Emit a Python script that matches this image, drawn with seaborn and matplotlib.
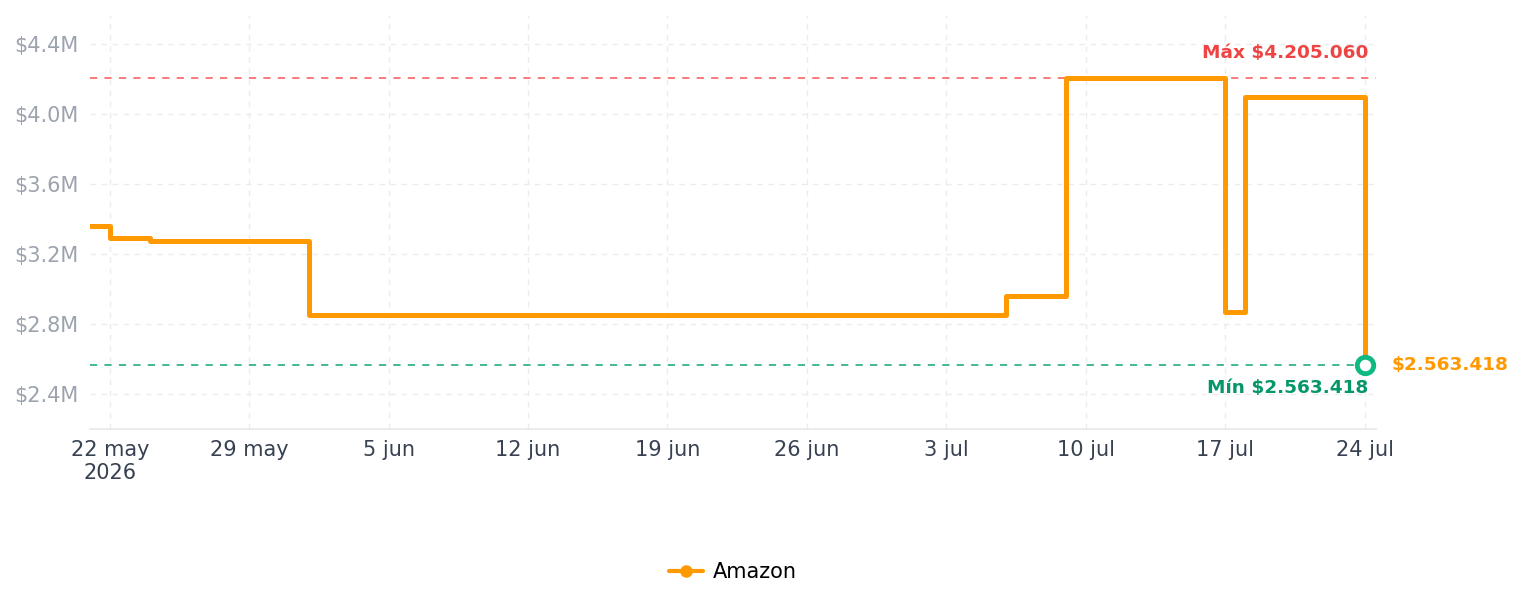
import matplotlib
matplotlib.use("Agg")
import matplotlib.pyplot as plt
import matplotlib.dates as mdates
from matplotlib.lines import Line2D
import seaborn as sns
import pandas as pd

# ---- data ----
dates = ["2026-05-21", "2026-05-22", "2026-05-24", "2026-06-01", "2026-07-06",
         "2026-07-09", "2026-07-17", "2026-07-18", "2026-07-24"]
prices = [3360000, 3290000, 3275000, 2850000, 2960000,
          4205060, 2869000, 4097000, 2563418]
series_name = "Amazon"
max_price = 4205060
min_price = 2563418
max_label = "Máx $4.205.060"
min_label = "Mín $2.563.418"
last_label = "$2.563.418"
tick_dates = ["2026-05-22", "2026-05-29", "2026-06-05", "2026-06-12", "2026-06-19",
              "2026-06-26", "2026-07-03", "2026-07-10", "2026-07-17", "2026-07-24"]
tick_labels = ["22 may\n2026", "29 may", "5 jun", "12 jun", "19 jun",
               "26 jun", "3 jul", "10 jul", "17 jul", "24 jul"]
y_ticks = [2400000, 2800000, 3200000, 3600000, 4000000, 4400000]
y_tick_labels = ["$2.4M", "$2.8M", "$3.2M", "$3.6M", "$4.0M", "$4.4M"]

df = pd.DataFrame({"fecha": pd.to_datetime(dates), "precio": prices, "tienda": series_name})

sns.set_theme(style="white")
plt.rcParams["font.family"] = ["DejaVu Sans"]

ORANGE = "#ff9900"
fig = plt.figure(figsize=(15.24, 6.07), dpi=100)
ax = fig.add_axes([0.059, 0.2932, 0.844, 0.682])

sns.lineplot(data=df, x="fecha", y="precio", ax=ax, color=ORANGE, linewidth=3.6,
             drawstyle="steps-post", legend=False, zorder=3)

ax.axhline(max_price, color="#f87171", linestyle=(0, (4, 4)), linewidth=1.3, zorder=2)
ax.axhline(min_price, color="#34b38a", linestyle=(0, (4, 4)), linewidth=1.3, zorder=2)

last_x = pd.to_datetime(dates[-1])
ax.scatter([last_x], [prices[-1]], s=140, facecolor="white", edgecolor="#10b981",
           linewidth=3.5, zorder=5)

xmin = pd.Timestamp("2026-05-21")
xmax = pd.Timestamp("2026-07-24 14:00")
ax.set_xlim(xmin, xmax)
ax.set_ylim(2200000, 4566000)

ax.text(pd.Timestamp("2026-07-24 05:00"), max_price + 90000, max_label, color="#ef4444",
        fontsize=13.3, fontweight="bold", ha="right", va="bottom")
ax.text(pd.Timestamp("2026-07-24 05:00"), min_price - 80000, min_label, color="#059669",
        fontsize=13.3, fontweight="bold", ha="right", va="top")
ax.text(pd.Timestamp("2026-07-25 09:00"), prices[-1], last_label, color=ORANGE,
        fontsize=13.3, fontweight="bold", ha="left", va="center", clip_on=False)

ax.set_xticks(pd.to_datetime(tick_dates))
ax.set_xticklabels(tick_labels, color="#374151", fontsize=15)
ax.set_yticks(y_ticks)
ax.set_yticklabels(y_tick_labels, color="#9ca3af", fontsize=15)
ax.tick_params(axis="x", length=0, pad=8)
ax.tick_params(axis="y", length=0, pad=8)
ax.set_xlabel("")
ax.set_ylabel("")

ax.grid(True, color="#ececec", linestyle=(0, (4, 4)), linewidth=1.0, zorder=0)
for s in ["top", "right", "left"]:
    ax.spines[s].set_visible(False)
ax.spines["bottom"].set_color("#e5e7eb")
ax.spines["bottom"].set_linewidth(1.2)

handle = Line2D([0], [0], color=ORANGE, linewidth=3, marker="o", markersize=8)
leg = fig.legend([handle], [series_name], loc="center", bbox_to_anchor=(0.481, 0.057),
                 frameon=False, fontsize=15, handlelength=1.6, handletextpad=0.5)
for t in leg.get_texts():
    t.set_color("black")

fig.savefig("out.png", dpi=100)
